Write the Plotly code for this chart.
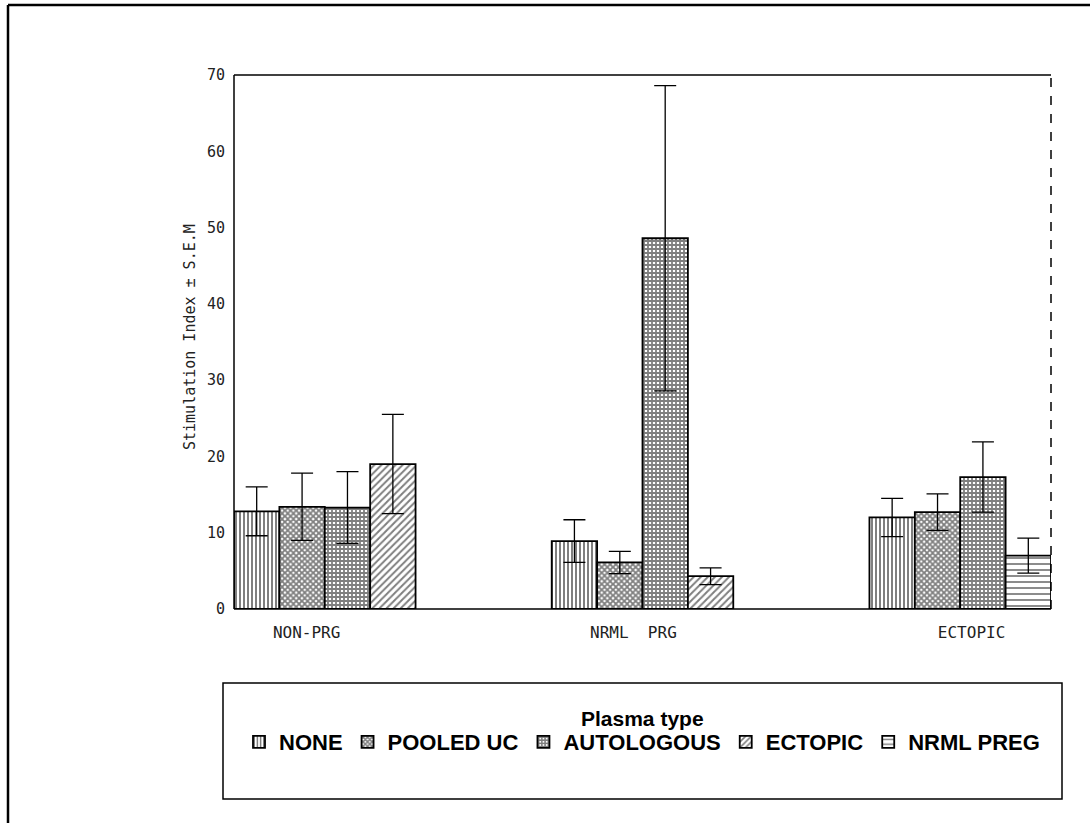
import plotly.graph_objects as go

# Groups of donors and the plasma each culture was given
groups = ["NON-PRG", "NRML\u00a0 PRG", "ECTOPIC"]
group_label_pos = [1.6, 8.8, 16.25]

none_mean = [12.8, 8.9, 12.0]
none_sem = [3.2, 2.8, 2.5]

pooled_mean = [13.4, 6.1, 12.7]
pooled_sem = [4.4, 1.45, 2.4]

auto_mean = [13.3, 48.6, 17.3]
auto_sem = [4.7, 20.0, 4.6]

ectopic_mean = [19.0, 4.3, None]
ectopic_sem = [6.5, 1.1, None]

nrml_mean = [None, None, 7.0]
nrml_sem = [None, None, 2.3]

W, H = 1090, 823
L, R, T, B = 234, 1051, 75, 609  # plot area in page pixels

group_start = [0, 7, 14]
y_ticks = [0, 10, 20, 30, 40, 50, 60, 70]

series = [
    ("NONE", none_mean, none_sem, 0, dict(shape="|", size=4, solidity=0.5)),
    ("POOLED UC", pooled_mean, pooled_sem, 1, dict(shape="x", size=4, solidity=0.7)),
    ("AUTOLOGOUS", auto_mean, auto_sem, 2, dict(shape="+", size=4, solidity=0.7)),
    ("ECTOPIC", ectopic_mean, ectopic_sem, 3, dict(shape="/", size=5, solidity=0.4)),
    ("NRML PREG", nrml_mean, nrml_sem, 3, dict(shape="-", size=6, solidity=0.3)),
]

fig = go.Figure()
for name, means, sems, slot, pat in series:
    xs, ys, es = [], [], []
    for g, (m, e) in enumerate(zip(means, sems)):
        if m is None:
            continue
        xs.append(group_start[g] + slot + 0.5)
        ys.append(m)
        es.append(e)
    fig.add_trace(go.Bar(
        x=xs, y=ys, width=1, name=name,
        marker=dict(
            color="white",
            line=dict(color="black", width=1.8),
            pattern=dict(fgcolor="black", bgcolor="white", **pat),
        ),
        error_y=dict(type="data", array=es, visible=True, color="black",
                     thickness=1.3, width=11),
    ))


def px(x, y):
    """Page pixel -> paper coordinates of the plot area."""
    return (x - L) / (R - L), (B - y) / (B - T)


shapes = []
# plot frame: solid left, bottom, top; dashed right
for (x0, y0, x1, y1, dash) in [(0, 0, 0, 1, "solid"), (0, 0, 1, 0, "solid"),
                               (0, 1, 1, 1, "solid"), (1, 0, 1, 1, "dash")]:
    shapes.append(dict(type="line", xref="paper", yref="paper", x0=x0, y0=y0,
                       x1=x1, y1=y1, line=dict(color="black", width=1.5, dash=dash)))

# outer page frame (top and left edges)
a = px(8, 5)
b = px(W, 5)
c = px(8, H)
shapes.append(dict(type="line", xref="paper", yref="paper", x0=a[0], y0=a[1],
                   x1=b[0], y1=b[1], line=dict(color="black", width=2.5)))
shapes.append(dict(type="line", xref="paper", yref="paper", x0=a[0], y0=a[1],
                   x1=c[0], y1=c[1], line=dict(color="black", width=2.5)))

# legend box
p0 = px(223, 683)
p1 = px(1062, 799)
shapes.append(dict(type="rect", xref="paper", yref="paper", x0=p0[0], y0=p0[1],
                   x1=p1[0], y1=p1[1], line=dict(color="black", width=1.5)))

ttl = px(642, 718)
ylab = px(190, 337)
annotations = [
    dict(text="Plasma type", xref="paper", yref="paper", x=ttl[0], y=ttl[1],
         showarrow=False, xanchor="center", yanchor="middle",
         font=dict(family="Liberation Sans", size=21, color="black", weight="bold")),
    dict(text="Stimulation Index \u00b1 S.E.M", xref="paper", yref="paper",
         x=ylab[0], y=ylab[1], textangle=-90, showarrow=False,
         xanchor="center", yanchor="middle",
         font=dict(family="DejaVu Sans Mono", size=15, color="#222")),
]

fig.update_layout(
    width=W, height=H,
    margin=dict(l=L, r=W - R, t=T, b=H - B, pad=0),
    paper_bgcolor="white", plot_bgcolor="white",
    barmode="overlay",
    showlegend=True,
    legend=dict(
        orientation="h", xref="container", yref="container",
        x=642 / W, y=1 - 742 / H, xanchor="center", yanchor="middle",
        font=dict(family="Liberation Sans", size=22, color="black", weight="bold"),
        bgcolor="rgba(0,0,0,0)", borderwidth=0,
        itemwidth=30, tracegroupgap=0,
    ),
    xaxis=dict(range=[0, 18], tickvals=group_label_pos,
               ticktext=groups, showgrid=False, zeroline=False, showline=False,
               ticks="", ticklabelstandoff=12,
               tickfont=dict(family="DejaVu Sans Mono", size=16, color="#222")),
    yaxis=dict(range=[0, 70], tickvals=y_ticks, showgrid=False, zeroline=False,
               showline=False, ticks="", ticklabelstandoff=8,
               tickfont=dict(family="DejaVu Sans Mono", size=15, color="#222")),
    shapes=shapes,
    annotations=annotations,
)

fig.write_html("out.html")
